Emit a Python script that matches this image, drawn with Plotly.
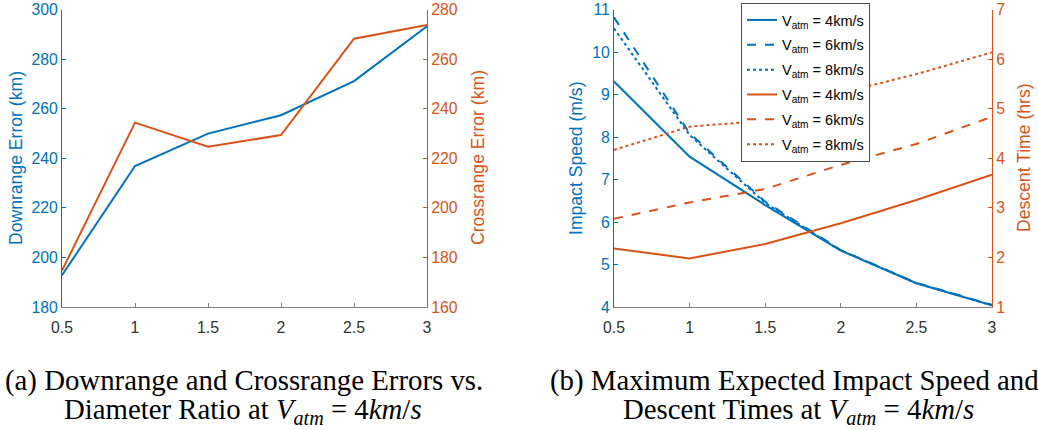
import plotly.graph_objects as go

W, H = 1038, 430

# ---- data -------------------------------------------------------------
diameter_ratio = [0.5, 1.0, 1.5, 2.0, 2.5, 3.0]
tick_text = ["0.5", "1", "1.5", "2", "2.5", "3"]

downrange_err = [192.8, 236.9, 250.0, 257.4, 271.2, 293.3]     # km
crossrange_err = [174.7, 234.4, 224.7, 229.4, 268.3, 273.8]    # km

impact_v4 = [9.31, 7.54, 6.40, 5.33, 4.56, 4.04]   # m/s
impact_v6 = [10.82, 8.09, 6.48, 5.34, 4.57, 4.05]
impact_v8 = [10.56, 8.05, 6.45, 5.33, 4.56, 4.04]

descent_v4 = [2.18, 1.98, 2.27, 2.69, 3.16, 3.67]  # hrs
descent_v6 = [2.78, 3.11, 3.38, 3.87, 4.29, 4.84]
descent_v8 = [4.17, 4.64, 4.76, 5.32, 5.70, 6.14]

BLUE = "#0072BD"
ORANGE = "#D95319"
GRAY = "#333333"
SANS = "Liberation Sans, Arial, sans-serif"
TICK_FONT = dict(family=SANS, size=15.8)
TITLE_FONT_SIZE = 17.6

fig = go.Figure()

# ---- (a) errors vs diameter ratio ------------------------------------
fig.add_trace(go.Scatter(x=diameter_ratio, y=downrange_err, mode="lines",
                         line=dict(color=BLUE, width=2), xaxis="x", yaxis="y",
                         showlegend=False))
fig.add_trace(go.Scatter(x=diameter_ratio, y=crossrange_err, mode="lines",
                         line=dict(color=ORANGE, width=2), xaxis="x", yaxis="y2",
                         showlegend=False))

# ---- (b) impact speed and descent time -------------------------------
lbl = lambda v: f"V<sub>atm</sub> = {v}km/s"
styles = ["solid", "dash", "dot"]
for i, (vals, v) in enumerate(zip([impact_v4, impact_v6, impact_v8], [4, 6, 8])):
    fig.add_trace(go.Scatter(x=diameter_ratio, y=vals, mode="lines", name=lbl(v),
                             line=dict(color=BLUE, width=2, dash=styles[i]),
                             xaxis="x2", yaxis="y3", legendgroup=f"b{i}"))
for i, (vals, v) in enumerate(zip([descent_v4, descent_v6, descent_v8], [4, 6, 8])):
    fig.add_trace(go.Scatter(x=diameter_ratio, y=vals, mode="lines", name=lbl(v),
                             line=dict(color=ORANGE, width=2, dash=styles[i]),
                             xaxis="x2", yaxis="y4", legendgroup=f"o{i}"))

ydom = [1 - 307 / H, 1 - 9.7 / H]


def xax(dom):
    return dict(domain=dom, range=[0.5, 3], tickvals=diameter_ratio, ticktext=tick_text,
                showline=True, linecolor="#808080", linewidth=1, ticks="inside",
                ticklen=4, tickcolor="#808080", showgrid=False, zeroline=False,
                ticklabelstandoff=6, automargin=False,
                tickfont=dict(TICK_FONT, color=GRAY), fixedrange=True)


def yax(rng, dtick, color, side, anchor, overlay=None):
    d = dict(domain=ydom, range=rng, dtick=dtick, tick0=rng[0], side=side, anchor=anchor,
             showline=True, linecolor=color, linewidth=1, ticks="inside", ticklen=4,
             tickcolor=color, showgrid=False, zeroline=False, automargin=False,
             tickfont=dict(TICK_FONT, color=color))
    if overlay:
        d["overlaying"] = overlay
    return d


fig.update_layout(
    width=W, height=H,
    margin=dict(l=0, r=0, t=0, b=0, pad=0, autoexpand=False),
    paper_bgcolor="white", plot_bgcolor="white",
    xaxis=xax([62 / W, 427 / W]),
    xaxis2=xax([614 / W, 992 / W]),
    yaxis=yax([180, 300], 20, BLUE, "left", "x"),
    yaxis2=yax([160, 280], 20, ORANGE, "right", "x", "y"),
    yaxis3=yax([4, 11], 1, BLUE, "left", "x2"),
    yaxis4=yax([1, 7], 1, ORANGE, "right", "x2", "y3"),
    legend=dict(x=741 / W, y=1 - 3 / H, xanchor="left", yanchor="top",
                bgcolor="white", bordercolor="#4d4d4d", borderwidth=1,
                font=dict(family=SANS, size=14.5, color="black"),
                itemwidth=30, tracegroupgap=3),
    showlegend=True,
)

# axis titles
titles = [
    ("Downrange Error (km)", 16, BLUE),
    ("Crossrange Error (km)", 478, ORANGE),
    ("Impact Speed (m/s)", 576, BLUE),
    ("Descent Time (hrs)", 1024, ORANGE),
]
for text, xp, col in titles:
    fig.add_annotation(text=text, x=xp / W, y=1 - 158 / H, xref="paper", yref="paper",
                       xanchor="center", yanchor="middle", textangle=-90, showarrow=False,
                       font=dict(family=SANS, size=TITLE_FONT_SIZE, color=col))

# captions
CAP = dict(family="Liberation Serif, Times New Roman, serif", size=28.8, color="black")
math = "<i>V</i><sub><i>atm</i></sub> = 4<i>km</i>/<i>s</i>"
captions = [
    ("(a) Downrange and Crossrange Errors vs.", 244, 380, "center"),
    ("Diameter Ratio at " + math, 243, 411, "center"),
    ("(b) Maximum Expected Impact Speed and", 548, 380, "left"),
    ("Descent Times at " + math, 798, 411, "center"),
]
for text, xp, yp, anc in captions:
    fig.add_annotation(text=text, x=xp / W, y=1 - yp / H, xref="paper", yref="paper",
                       xanchor=anc, yanchor="middle", showarrow=False, font=CAP)

fig.write_html("out.html")
